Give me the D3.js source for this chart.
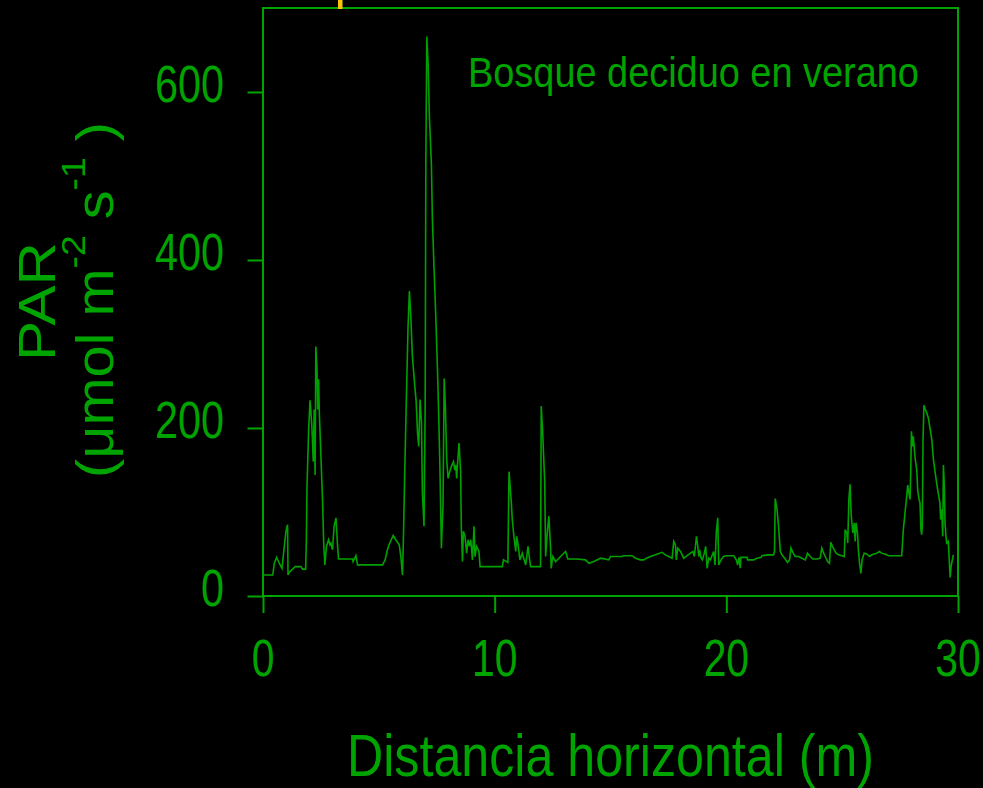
<!DOCTYPE html>
<html>
<head>
<meta charset="utf-8">
<script src="https://cdn.jsdelivr.net/npm/d3@7"></script>
<style>
  html, body { margin: 0; padding: 0; background: #000; }
  svg { display: block; }
</style>
</head>
<body>
<svg id="chart" width="983" height="788"></svg>
<script>
// ---- data ----
const distance = [
  0.00,0.42,0.49,0.59,0.70,0.82,0.92,0.99,1.06,1.08,1.13,1.39,1.64,1.71,1.84,1.87,1.90,1.97,2.03,2.07,
  2.11,2.17,2.21,2.25,2.28,2.33,2.36,2.40,2.43,2.50,2.57,2.62,2.67,2.74,2.83,2.89,2.93,3.00,3.07,3.15,
  3.22,3.26,3.87,3.89,4.01,4.08,5.16,5.27,5.37,5.47,5.62,5.73,5.88,5.95,6.02,6.06,6.12,6.19,6.26,6.32,
  6.38,6.45,6.54,6.61,6.67,6.72,6.78,6.84,6.88,6.95,7.00,7.03,7.07,7.13,7.18,7.27,7.31,7.38,7.46,7.53,
  7.59,7.64,7.70,7.77,7.82,7.87,7.93,7.99,8.06,8.13,8.22,8.28,8.32,8.36,8.39,8.46,8.53,8.56,8.61,8.65,
  8.72,8.79,8.85,8.91,8.97,9.04,9.11,9.15,9.22,9.32,9.37,10.33,10.38,10.57,10.62,10.66,10.72,10.76,10.83,10.91,
  10.95,11.00,11.09,11.19,11.34,11.44,11.49,11.55,11.98,12.01,12.07,12.16,12.20,12.27,12.34,12.41,12.44,12.51,12.63,12.77,
  13.06,13.16,13.56,13.92,14.07,14.28,14.50,14.57,14.93,15.00,15.50,15.57,15.93,16.08,16.29,16.44,16.55,16.72,16.94,17.23,
  17.37,17.51,17.66,17.73,17.80,17.84,17.90,18.02,18.16,18.31,18.45,18.56,18.62,18.71,18.76,18.81,18.85,18.91,18.97,19.05,
  19.11,19.17,19.24,19.31,19.38,19.45,19.51,19.57,19.63,19.67,19.77,19.88,20.00,20.32,20.43,20.49,20.55,20.60,20.63,20.89,
  20.92,21.18,21.32,21.50,21.54,21.82,22.04,22.08,22.11,22.19,22.26,22.33,22.40,22.54,22.64,22.73,22.79,22.87,22.97,23.12,
  23.26,23.41,23.50,23.62,23.74,23.91,24.05,24.12,24.20,24.27,24.37,24.45,24.51,24.58,24.66,24.74,24.84,24.99,25.09,25.13,
  25.20,25.24,25.29,25.34,25.39,25.46,25.52,25.56,25.60,25.66,25.70,25.75,25.81,25.86,25.95,26.06,26.18,26.28,26.49,26.61,
  26.71,26.85,27.00,27.57,27.64,27.72,27.79,27.83,27.87,27.93,27.96,27.99,28.03,28.07,28.15,28.22,28.26,28.32,28.36,28.40,
  28.43,28.46,28.49,28.53,28.59,28.65,28.72,28.79,28.87,28.94,29.01,29.08,29.15,29.22,29.25,29.30,29.34,29.37,29.41,29.44,
  29.48,29.51,29.58,29.63,29.66,29.70,29.74,29.80
];
const par = [
  25,25,39,46,39,33,59,77,85,25,28,35,35,32,32,65,131,198,233,218,
  202,160,222,144,297,270,222,258,220,166,114,63,37,59,67,61,63,55,83,93,
  59,44,44,41,48,37,37,43,55,63,72,67,61,47,25,67,150,236,320,363,
  333,285,254,232,194,178,234,206,123,83,228,519,666,632,572,513,451,392,332,271,
  209,149,57,107,259,227,162,140,148,154,160,150,156,140,154,182,148,83,41,77,
  71,51,67,59,67,43,83,47,59,53,35,35,43,40,148,134,111,91,71,53,
  71,63,43,51,37,59,47,35,35,226,196,136,47,75,95,59,33,47,41,45,
  53,44,44,43,39,41,44,45,43,47,47,48,48,45,43,43,45,47,49,52,
  49,47,45,65,61,43,57,53,45,48,51,53,47,71,61,47,55,45,43,51,
  59,33,45,43,48,53,37,77,93,37,43,47,48,48,43,37,46,33,46,46,
  43,43,45,46,48,49,49,53,116,103,81,53,49,44,40,43,57,52,47,47,
  45,43,51,47,44,44,45,57,51,47,41,39,64,59,55,51,49,48,47,79,
  75,63,115,133,97,75,87,65,87,75,55,39,27,43,51,50,47,49,51,53,
  51,50,48,48,79,101,120,132,124,115,150,196,178,190,164,150,126,115,111,79,
  73,83,186,227,222,218,212,200,186,162,148,134,122,111,91,103,71,156,130,87,
  71,63,65,39,22,35,41,49
];
const xTicks = [0, 10, 20, 30];
const yTicks = [0, 200, 400, 600];
const xTitle = "Distancia horizontal (m)";
const yTitle1 = "PAR";
const annotation = "Bosque deciduo en verano";

// ---- layout ----
const green = "#00a400";
const lineGreen = "#00a000";
const font = "'Liberation Sans', Arial, Helvetica, sans-serif";
const svg = d3.select("#chart");
svg.append("rect").attr("width", 983).attr("height", 788).attr("fill", "#000");

const x = d3.scaleLinear().domain([0, 30]).range([263, 958]);
const y = d3.scaleLinear().domain([0, 700]).range([596, 8]);

// frame
svg.append("rect")
  .attr("x", x(0)).attr("y", y(700))
  .attr("width", x(30) - x(0)).attr("height", y(0) - y(700))
  .attr("fill", "none").attr("stroke", green).attr("stroke-width", 2);

// axes (ticks only)
const gx = svg.append("g").attr("transform", `translate(0,${y(0)})`)
  .call(d3.axisBottom(x).tickValues(xTicks).tickSize(17).tickFormat(""));
const gy = svg.append("g").attr("transform", `translate(${x(0)},0)`)
  .call(d3.axisLeft(y).tickValues(yTicks).tickSize(15.5).tickFormat(""));
[gx, gy].forEach(g => {
  g.select(".domain").remove();
  g.selectAll(".tick line").attr("stroke", green).attr("stroke-width", 2);
});

// yellow mark at top
svg.append("rect").attr("x", 338).attr("y", 0).attr("width", 4.5).attr("height", 9).attr("fill", "#ffc400");

// data line
const line = d3.line().x((d, i) => x(distance[i])).y(d => y(d));
svg.append("path").datum(par)
  .attr("d", line)
  .attr("fill", "none").attr("stroke", lineGreen).attr("stroke-width", 1.6)
  .attr("stroke-linejoin", "miter");

// text helper
function makeText(fs) {
  return svg.append("text").attr("font-family", font).attr("font-size", fs)
    .attr("fill", green).attr("x", 0).attr("y", 0);
}
function place(t, opts) {
  const bb = t.node().getBBox();
  const s = opts.width ? opts.width / bb.width : (opts.scale || 1);
  let ox;
  if (opts.anchor === "end") ox = -(bb.x + bb.width);
  else if (opts.anchor === "middle") ox = -(bb.x + bb.width / 2);
  else ox = -bb.x;
  const rot = opts.rotate ? ` rotate(${opts.rotate})` : "";
  t.attr("transform", `translate(${opts.x},${opts.y})${rot} scale(${s},1) translate(${ox},0)`);
}

// tick labels
xTicks.forEach(v => {
  const t = makeText(51).text(v);
  place(t, { x: x(v), y: 676, anchor: "middle", scale: 0.8 });
});
yTicks.forEach(v => {
  const t = makeText(51).text(v);
  place(t, { x: 224, y: y(v) + 9.5, anchor: "end", scale: 0.81 });
});

// x title
{
  const t = makeText(60).text(xTitle);
  place(t, { x: 347, y: 776, width: 527 });
}
// annotation
{
  const t = makeText(42).text(annotation);
  place(t, { x: 468, y: 87, width: 451 });
}
// y title line 1
{
  const t = makeText(51).text(yTitle1);
  place(t, { x: 55, y: 361, rotate: -90, width: 119 });
}
// y title line 2
{
  const t = makeText(51);
  t.append("tspan").text("(\u03bcmol m");
  t.append("tspan").attr("font-size", 33).attr("dy", -28).text("-2");
  t.append("tspan").attr("dy", 28).text(" s");
  t.append("tspan").attr("font-size", 33).attr("dy", -28).text("-1");
  t.append("tspan").attr("dy", 28).text(" )");
  place(t, { x: 113, y: 478, rotate: -90, width: 356 });
}
</script>
</body>
</html>
